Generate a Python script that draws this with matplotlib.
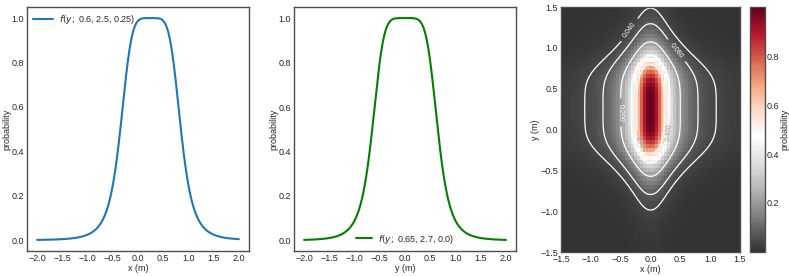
import numpy as np
import matplotlib
matplotlib.use("Agg")
import matplotlib.pyplot as plt
from matplotlib.colors import ListedColormap

# bell parameters (width, slope, centre) as printed in the legends
params_x = [0.6, 2.5, 0.25]
params_y = [0.65, 2.7, 0.0]
# profiles of the heat map (estimated from its contours)
params_map_x = [0.27, 1.13, 0.0]
params_map_y = [0.6, 2.2, 0.25]
contour_levels = [0.04, 0.08, 0.2, 0.4, 0.6]
cbar_ticks = [0.2, 0.4, 0.6, 0.8]


def bell(v, a, b, c):
    return 1.0 / (1.0 + np.abs((v - c) / a) ** (2 * b))


plt.style.use("seaborn-v0_8-white")
plt.rcParams.update({
    "font.size": 6.5,
    "axes.labelsize": 6.5,
    "xtick.labelsize": 6.5,
    "ytick.labelsize": 6.5,
    "legend.fontsize": 6.5,
    "axes.edgecolor": "0.3",
    "axes.linewidth": 1.0,
})

fig = plt.figure(figsize=(7.89, 2.76), dpi=100)
W, H = 789, 276


def box(l, r, t, b):
    return [l / W, (H - b) / H, (r - l) / W, (b - t) / H]


v = np.linspace(-2, 2, 400)

# Left: profile along x
ax1 = fig.add_axes(box(27, 249, 7, 251))
ax1.plot(v, bell(v, *params_x), color="tab:blue", lw=1.5,
         label=f"$f(y;$ {params_x[0]}, {params_x[1]}, {params_x[2]})")
ax1.set_xlabel("x (m)", labelpad=1)
ax1.legend(loc="upper left", frameon=False, handlelength=2.2,
           handletextpad=0.6, borderaxespad=0.3)

# Middle: profile along y
ax2 = fig.add_axes(box(294, 516, 7, 251))
ax2.plot(v, bell(v, *params_y), color="green", lw=1.5,
         label=f"$f(y;$ {params_y[0]}, {params_y[1]}, {params_y[2]})")
ax2.set_xlabel("y (m)", labelpad=1)
ax2.legend(loc="lower center", frameon=False, handlelength=1.8,
           handletextpad=0.6, borderaxespad=0.2)

for ax in (ax1, ax2):
    ax.set_ylabel("probability", labelpad=0)
    ax.set_xticks(np.arange(-2.0, 2.01, 0.5))
    ax.tick_params(pad=2)

# Right: 2D map
gx = np.arange(-1.5, 1.5001, 0.05)
gy = np.arange(-1.5, 1.5001, 0.05)
X, Y = np.meshgrid(gx, gy)
Z = bell(X, *params_map_x) * bell(Y, *params_map_y)

cmap = ListedColormap(plt.get_cmap("RdGy_r")(np.linspace(0.05, 1, 256)))

ax3 = fig.add_axes(box(561, 740, 7, 252))
mesh = ax3.pcolormesh(X, Y, Z, cmap=cmap, shading="nearest",
                      vmin=0, vmax=1)
cs = ax3.contour(X, Y, Z, levels=contour_levels, colors="white",
                 linewidths=0.9)
labels = ax3.clabel(cs, fmt="%.3f", fontsize=5, inline=True,
                    manual=[(-0.37, 1.23), (0.44, 0.97), (-0.56, 0.21),
                            (0.27, -0.03), (-0.14, -0.17)])
for t in labels:
    if t.get_text() in ("0.400", "0.600"):
        t.set_color("0.6")
ax3.set_xlim(-1.5, 1.5)
ax3.set_ylim(-1.5, 1.5)
ax3.set_xticks(np.arange(-1.5, 1.51, 0.5))
ax3.set_yticks(np.arange(-1.5, 1.51, 0.5))
ax3.set_xlabel("x (m)", labelpad=1)
ax3.set_ylabel("y (m)", labelpad=0)
ax3.tick_params(pad=2)

cax = fig.add_axes(box(750, 765, 7, 252))
cb = fig.colorbar(mesh, cax=cax)
cb.set_ticks(cbar_ticks)
cb.set_label("probability", labelpad=1)
cb.ax.tick_params(labelsize=6.5, pad=1)
cb.outline.set_edgecolor("0.3")

fig.savefig("out.png", dpi=100)
